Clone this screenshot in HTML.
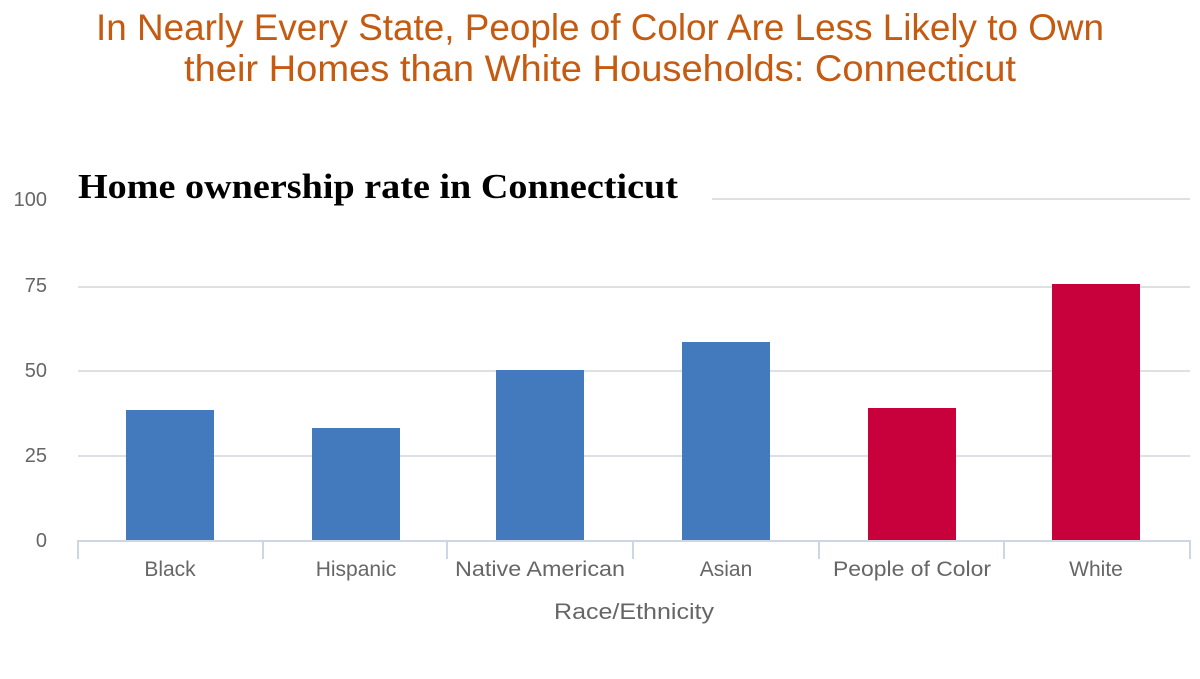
<!DOCTYPE html>
<html><head><meta charset="utf-8"><style>
body{margin:0;background:#fff;width:1200px;height:674px;overflow:hidden;font-family:"Liberation Sans",sans-serif}
</style></head><body>
<svg width="1200" height="674" xmlns="http://www.w3.org/2000/svg">
<text x="600" y="40" text-anchor="middle" font-family="Liberation Sans,sans-serif" font-size="37" fill="#C55A11" textLength="1008" lengthAdjust="spacingAndGlyphs">In Nearly Every State, People of Color Are Less Likely to Own</text>
<text x="600" y="81" text-anchor="middle" font-family="Liberation Sans,sans-serif" font-size="37" fill="#C55A11" textLength="832" lengthAdjust="spacingAndGlyphs">their Homes than White Households: Connecticut</text>
<g stroke="#dde1e6" stroke-width="2">
<line x1="712" y1="199" x2="1190" y2="199"/>
<line x1="78" y1="287" x2="1190" y2="287"/>
<line x1="78" y1="371" x2="1190" y2="371"/>
<line x1="78" y1="456" x2="1190" y2="456"/>
</g>
<g fill="#4379BD">
<rect x="126" y="410" width="88" height="130"/>
<rect x="312" y="428" width="88" height="112"/>
<rect x="496" y="370" width="88" height="170"/>
<rect x="682" y="342" width="88" height="198"/>
</g>
<g fill="#C8003C">
<rect x="868" y="408" width="88" height="132"/>
<rect x="1052" y="284" width="88" height="256"/>
</g>
<g stroke="#ccd6e4" stroke-width="2">
<line x1="77" y1="541" x2="1191" y2="541"/>
<line x1="78" y1="541" x2="78" y2="559"/>
<line x1="263" y1="541" x2="263" y2="559"/>
<line x1="447" y1="541" x2="447" y2="559"/>
<line x1="633" y1="541" x2="633" y2="559"/>
<line x1="819" y1="541" x2="819" y2="559"/>
<line x1="1004" y1="541" x2="1004" y2="559"/>
<line x1="1190" y1="541" x2="1190" y2="559"/>
</g>
<g font-family="Liberation Sans,sans-serif" font-size="20" fill="#666" text-anchor="end">
<text x="47" y="206">100</text>
<text x="47" y="292">75</text>
<text x="47" y="377">50</text>
<text x="47" y="462">25</text>
<text x="47" y="547">0</text>
</g>
<g font-family="Liberation Sans,sans-serif" font-size="21" fill="#666" text-anchor="middle">
<text x="170" y="576">Black</text>
<text x="356" y="576">Hispanic</text>
<text x="540" y="576" textLength="170" lengthAdjust="spacingAndGlyphs">Native American</text>
<text x="726" y="576">Asian</text>
<text x="912" y="576" textLength="158" lengthAdjust="spacingAndGlyphs">People of Color</text>
<text x="1096" y="576">White</text>
<text x="634" y="619" font-size="22" textLength="160" lengthAdjust="spacingAndGlyphs">Race/Ethnicity</text>
</g>
<text x="78" y="198" font-family="Liberation Serif,serif" font-weight="bold" font-size="35" fill="#000" textLength="600" lengthAdjust="spacingAndGlyphs">Home ownership rate in Connecticut</text>
</svg>
</body></html>
